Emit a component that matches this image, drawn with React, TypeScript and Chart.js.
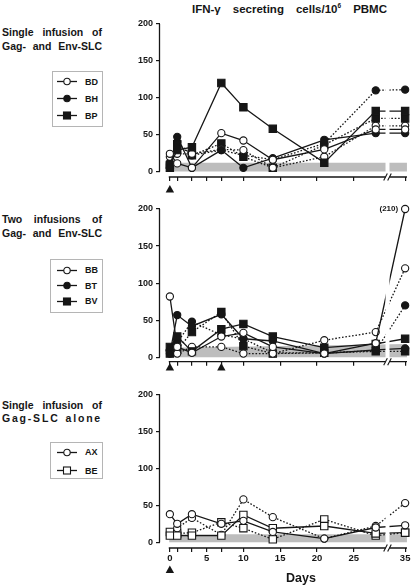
import React, { useEffect, useRef } from "react";
import { Chart, registerables } from "chart.js";

Chart.register(...registerables);

// ---------------- data ----------------
const DAYS = [0, 1, 3, 7, 10, 14, 21, 28, 35];
const TICK_DAYS = [0, 1, 3, 5, 7, 10, 15, 20, 25, 35];
const LABELED_DAYS = [0, 5, 10, 15, 20, 25, 35];
const Y_TICKS = [0, 50, 100, 150, 200];
const Y_MAX = 200;

// Panel 1: single infusion of Gag- and Env-SLC
const BD_SOLID = [24, 11, 5, 52, 42, 16, 30, 57, 57];
const BD_DOTTED = [20, 24, 24, 30, 29, 5, 20, 62, 62];
const BH_SOLID = [5, 47, 5, 29, 5, 18, 43, 52, 52];
const BH_DOTTED = [12, 40, 22, 29, 22, 16, 38, 110, 111];
const BP_SOLID = [9, 29, 33, 120, 87, 58, 12, 82, 82];
const BP_DOTTED = [5, 37, 22, 38, 20, 5, 36, 72, 72];
const CUTOFF_1 = [12, 12];
const INFUSIONS_1 = [0];

// Panel 2: two infusions of Gag- and Env-SLC
const BB_SOLID = [82, 14, 6, 28, 33, 14, 5, 19, 210];
const BB_DOTTED = [8, 5, 14, 14, 5, 5, 23, 34, 120];
const BT_SOLID = [5, 57, 42, 58, 25, 22, 5, 10, 12];
const BT_DOTTED = [10, 20, 48, 30, 25, 6, 6, 9, 70];
const BV_SOLID = [14, 28, 8, 38, 45, 28, 13, 18, 25];
const BV_DOTTED = [5, 10, 34, 61, 15, 5, 6, 8, 8];
const CUTOFF_2 = [13, 18];
const INFUSIONS_2 = [0, 7];

// Panel 3: single infusion of Gag-SLC alone
const AX_SOLID = [38, 25, 38, 25, 29, 14, 5, 20, 23];
const AX_DOTTED = [null, 19, 33, 10, 58, 34, 5, 22, 53];
const BE_SOLID = [9, 9, 9, 9, 37, 19, 22, 12, 13];
const BE_DOTTED = [14, 12, 13, 27, 19, 4, 31, 9, 13];
const CUTOFF_3 = [11, 11];
const INFUSIONS_3 = [0];

// ---------------- styling / layout ----------------
const W = 416;
const H = 586;
const INK = "#161616";
const BAND = "#bdbdbd";
const FONT = "'Liberation Sans', Arial, Helvetica, sans-serif";

// broken x axis: day 35 is drawn closer after the break
const AXIS_35 = 32.0;
const axisPos = (day: number) => (day <= 28 ? day : AXIS_35);
const X_MIN = -1.342;
const X_MAX = 32.62;
const GAP_START = 29.33;
const GAP_END = 29.87;
const AXIS_START = -0.15;
const AXIS_END = 32.25;

const CHART_LEFT = 160;
const CHART_RIGHT_PAD = 3;
const X_AXIS_H = 30;

type Marker = "circle" | "rect";
interface Series {
  name: string;
  marker: Marker;
  filled: boolean;
  solid: (number | null)[];
  dotted: (number | null)[];
}
interface PanelSpec {
  top: number;
  zero: number;
  axis: number;
  xLabels: boolean;
  series: Series[];
  cutoff: number[];
  infusions: number[];
  triTop: number;
  title: string[];
  titleY: number[];
  titleSpacing: number;
  legend: { left: number; top: number; width: number; height: number; rows: number[] };
}

const PANELS: PanelSpec[] = [
  {
    top: 24,
    zero: 171.5,
    axis: 177,
    xLabels: false,
    series: [
      { name: "BD", marker: "circle", filled: false, solid: BD_SOLID, dotted: BD_DOTTED },
      { name: "BH", marker: "circle", filled: true, solid: BH_SOLID, dotted: BH_DOTTED },
      { name: "BP", marker: "rect", filled: true, solid: BP_SOLID, dotted: BP_DOTTED },
    ],
    cutoff: CUTOFF_1,
    infusions: INFUSIONS_1,
    triTop: 185,
    title: ["Single infusion of", "Gag- and Env-SLC"],
    titleY: [32, 46],
    titleSpacing: 0,
    legend: { left: 52, top: 71, width: 51, height: 56, rows: [81.5, 98.5, 115.5] },
  },
  {
    top: 209,
    zero: 357.3,
    axis: 361.7,
    xLabels: false,
    series: [
      { name: "BB", marker: "circle", filled: false, solid: BB_SOLID, dotted: BB_DOTTED },
      { name: "BT", marker: "circle", filled: true, solid: BT_SOLID, dotted: BT_DOTTED },
      { name: "BV", marker: "rect", filled: true, solid: BV_SOLID, dotted: BV_DOTTED },
    ],
    cutoff: CUTOFF_2,
    infusions: INFUSIONS_2,
    triTop: 363,
    title: ["Two infusions of", "Gag- and Env-SLC"],
    titleY: [219, 233],
    titleSpacing: 0,
    legend: { left: 50, top: 259, width: 53, height: 54, rows: [270, 285.5, 301] },
  },
  {
    top: 394.3,
    zero: 542.3,
    axis: 548,
    xLabels: true,
    series: [
      { name: "AX", marker: "circle", filled: false, solid: AX_SOLID, dotted: AX_DOTTED },
      { name: "BE", marker: "rect", filled: false, solid: BE_SOLID, dotted: BE_DOTTED },
    ],
    cutoff: CUTOFF_3,
    infusions: INFUSIONS_3,
    triTop: 565.5,
    title: ["Single infusion of", "Gag-SLC alone"],
    titleY: [405, 418],
    titleSpacing: 1.8,
    legend: { left: 50, top: 442, width: 53, height: 37, rows: [452.3, 470.7] },
  },
];

// ---------------- plugin for axes, break, arrows ----------------
const decorPlugin = {
  id: "decor",
  afterDraw(chart: any, _args: any, opts: any) {
    const { ctx, chartArea, scales } = chart;
    const xs = scales.x;
    const ys = scales.y;
    const axisY = chartArea.bottom;
    ctx.save();

    // white gap of the axis break through lines and band
    const g0 = xs.getPixelForValue(GAP_START);
    const g1 = xs.getPixelForValue(GAP_END);
    ctx.fillStyle = "#ffffff";
    ctx.fillRect(g0, chartArea.top - 6, g1 - g0, axisY - chartArea.top + 6);

    ctx.strokeStyle = INK;
    ctx.lineWidth = 1.3;
    ctx.setLineDash([]);

    // y axis line (0..200)
    const ax = Math.round(chartArea.left) - 0.5;
    ctx.beginPath();
    ctx.moveTo(ax, ys.getPixelForValue(Y_MAX));
    ctx.lineTo(ax, ys.getPixelForValue(0));
    ctx.stroke();

    // x axis, in two segments
    ctx.beginPath();
    ctx.moveTo(xs.getPixelForValue(AXIS_START), axisY);
    ctx.lineTo(g0, axisY);
    ctx.moveTo(g1, axisY);
    ctx.lineTo(xs.getPixelForValue(AXIS_END), axisY);
    ctx.stroke();

    // break marks //
    ctx.lineWidth = 1.1;
    for (const gx of [g0, g1]) {
      ctx.beginPath();
      ctx.moveTo(gx - 1.8, axisY + 3.5);
      ctx.lineTo(gx + 1.8, axisY - 3.5);
      ctx.stroke();
    }

    // infusion arrowheads
    ctx.fillStyle = INK;
    for (const d of opts.infusions as number[]) {
      const px = xs.getPixelForValue(axisPos(d));
      ctx.beginPath();
      ctx.moveTo(px, opts.triTop);
      ctx.lineTo(px + 4.2, opts.triTop + 7.5);
      ctx.lineTo(px - 4.2, opts.triTop + 7.5);
      ctx.closePath();
      ctx.fill();
    }

    // values beyond the y range
    ctx.font = `bold 8px ${FONT}`;
    ctx.textAlign = "right";
    ctx.textBaseline = "middle";
    for (const s of opts.series as Series[]) {
      for (const arr of [s.solid, s.dotted]) {
        arr.forEach((v, i) => {
          if (v != null && v > Y_MAX) {
            const px = xs.getPixelForValue(axisPos(DAYS[i]));
            const py = ys.getPixelForValue(Y_MAX);
            ctx.fillText(`(${v})`, px - 7, py);
          }
        });
      }
    }
    ctx.restore();
  },
};

function buildConfig(spec: PanelSpec): any {
  const pxPerUnit = (spec.zero - spec.top) / Y_MAX;
  const yMin = -(spec.axis - spec.zero) / pxPerUnit;

  const datasets: any[] = [];
  spec.series.forEach((s) => {
    (["solid", "dotted"] as const).forEach((kind) => {
      const vals = s[kind];
      datasets.push({
        label: `${s.name} ${kind}`,
        data: DAYS.map((d, i) => ({
          x: axisPos(d),
          y: vals[i] == null ? null : Math.min(vals[i] as number, Y_MAX),
        })),
        borderColor: INK,
        borderWidth: 1.3,
        borderDash: kind === "dotted" ? [1.6, 1.8] : [],
        pointStyle: s.marker,
        pointRadius: s.marker === "rect" ? 5.2 : 3.6,
        pointBackgroundColor: s.filled ? INK : "#ffffff",
        pointBorderColor: INK,
        pointBorderWidth: 1.1,
        tension: 0,
        fill: false,
        clip: false,
        spanGaps: false,
        order: kind === "dotted" ? 2 : 1,
      });
    });
  });
  datasets.push({
    label: "cutoff",
    data: [
      { x: -0.1, y: spec.cutoff[0] },
      { x: AXIS_END, y: spec.cutoff[1] },
    ],
    borderWidth: 0,
    borderColor: "rgba(0,0,0,0)",
    backgroundColor: BAND,
    fill: "origin",
    pointRadius: 0,
    tension: 0,
    order: 10,
  });

  return {
    type: "line",
    data: { datasets },
    plugins: [decorPlugin],
    options: {
      animation: false,
      responsive: false,
      devicePixelRatio: 1,
      events: [],
      layout: {
        padding: {
          top: spec.top,
          left: 0,
          right: CHART_RIGHT_PAD,
          bottom: H - spec.axis - X_AXIS_H,
        },
      },
      plugins: {
        legend: { display: false },
        tooltip: { enabled: false },
        title: { display: false },
        decor: { infusions: spec.infusions, triTop: spec.triTop, series: spec.series },
      },
      scales: {
        x: {
          type: "linear",
          min: X_MIN,
          max: X_MAX,
          afterBuildTicks: (scale: any) => {
            scale.ticks = TICK_DAYS.map((d) => ({ value: axisPos(d) }));
          },
          afterFit: (scale: any) => {
            scale.height = X_AXIS_H;
          },
          border: { display: false },
          grid: {
            drawOnChartArea: false,
            drawTicks: true,
            tickLength: 4,
            color: INK,
            lineWidth: 1.2,
          },
          ticks: {
            display: spec.xLabels,
            autoSkip: false,
            maxRotation: 0,
            minRotation: 0,
            padding: 1,
            color: INK,
            font: { family: FONT, size: 9.5, weight: "bold" },
            callback: (_v: any, i: number) =>
              LABELED_DAYS.includes(TICK_DAYS[i]) ? String(TICK_DAYS[i]) : "",
          },
        },
        y: {
          type: "linear",
          min: yMin,
          max: Y_MAX,
          afterBuildTicks: (scale: any) => {
            scale.ticks = Y_TICKS.map((v) => ({ value: v }));
          },
          afterFit: (scale: any) => {
            scale.width = CHART_LEFT;
          },
          border: { display: false },
          grid: {
            drawOnChartArea: false,
            drawTicks: true,
            tickLength: 4,
            color: INK,
            lineWidth: 1.2,
          },
          ticks: {
            padding: 3,
            color: INK,
            font: { family: FONT, size: 9, weight: "bold" },
          },
        },
      },
    },
  };
}

function PanelChart({ spec }: { spec: PanelSpec }) {
  const ref = useRef<HTMLCanvasElement>(null);
  useEffect(() => {
    if (!ref.current) return;
    const chart = new Chart(ref.current, buildConfig(spec));
    return () => chart.destroy();
  }, [spec]);
  return (
    <canvas
      ref={ref}
      width={W}
      height={H}
      style={{ position: "absolute", left: 0, top: 0, width: W, height: H }}
    />
  );
}

function MarkerIcon({ marker, filled }: { marker: Marker; filled: boolean }) {
  return (
    <svg width={20} height={9} style={{ display: "block" }}>
      <line x1={0} y1={4.5} x2={20} y2={4.5} stroke={INK} strokeWidth={1.3} />
      {marker === "circle" ? (
        <circle cx={10} cy={4.5} r={3.2} fill={filled ? INK : "#fff"} stroke={INK} strokeWidth={1.1} />
      ) : (
        <rect x={6.5} y={1} width={7} height={7} fill={filled ? INK : "#fff"} stroke={INK} strokeWidth={1.1} />
      )}
    </svg>
  );
}

function PanelText({ spec }: { spec: PanelSpec }) {
  const lg = spec.legend;
  return (
    <>
      {spec.title.map((t, i) => (
        <div
          key={i}
          style={{
            position: "absolute",
            left: 2,
            top: spec.titleY[i] - 7,
            width: 100,
            height: 14,
            lineHeight: "14px",
            fontFamily: FONT,
            fontWeight: "bold",
            fontSize: 10.5,
            color: INK,
            textAlign: "justify",
            textAlignLast: "justify" as any,
            letterSpacing: spec.titleSpacing && i === 1 ? spec.titleSpacing : 0,
            whiteSpace: "nowrap",
          }}
        >
          {t}
        </div>
      ))}
      <div
        style={{
          position: "absolute",
          left: lg.left,
          top: lg.top,
          width: lg.width,
          height: lg.height,
          border: "1px solid #b5b5b5",
          boxSizing: "border-box",
        }}
      />
      {spec.series.map((s, i) => (
        <div
          key={s.name}
          style={{
            position: "absolute",
            left: 57,
            top: lg.rows[i] - 5,
            height: 10,
            display: "flex",
            alignItems: "center",
            fontFamily: FONT,
            fontWeight: "bold",
            fontSize: 9,
            color: INK,
          }}
        >
          <MarkerIcon marker={s.marker} filled={s.filled} />
          <span style={{ marginLeft: 8, lineHeight: "10px" }}>{s.name}</span>
        </div>
      ))}
    </>
  );
}

export default function App() {
  return (
    <div
      style={{
        position: "absolute",
        left: 0,
        top: 0,
        width: W,
        height: H,
        background: "#ffffff",
        overflow: "hidden",
      }}
    >
      <div
        style={{
          position: "absolute",
          left: 192,
          top: 2,
          width: 195,
          height: 15,
          lineHeight: "15px",
          fontFamily: FONT,
          fontWeight: "bold",
          fontSize: 11.5,
          color: INK,
          textAlign: "justify",
          textAlignLast: "justify" as any,
          whiteSpace: "nowrap",
        }}
      >
        IFN-γ secreting cells/10<sup style={{ fontSize: 6.5, lineHeight: 0 }}>6</sup> PBMC
      </div>
      {PANELS.map((p, i) => (
        <PanelText key={"t" + i} spec={p} />
      ))}
      {PANELS.map((p, i) => (
        <PanelChart key={"c" + i} spec={p} />
      ))}
      <div
        style={{
          position: "absolute",
          left: 271,
          top: 571,
          width: 60,
          textAlign: "center",
          fontFamily: FONT,
          fontWeight: "bold",
          fontSize: 12.5,
          lineHeight: "14px",
          color: INK,
        }}
      >
        Days
      </div>
    </div>
  );
}
